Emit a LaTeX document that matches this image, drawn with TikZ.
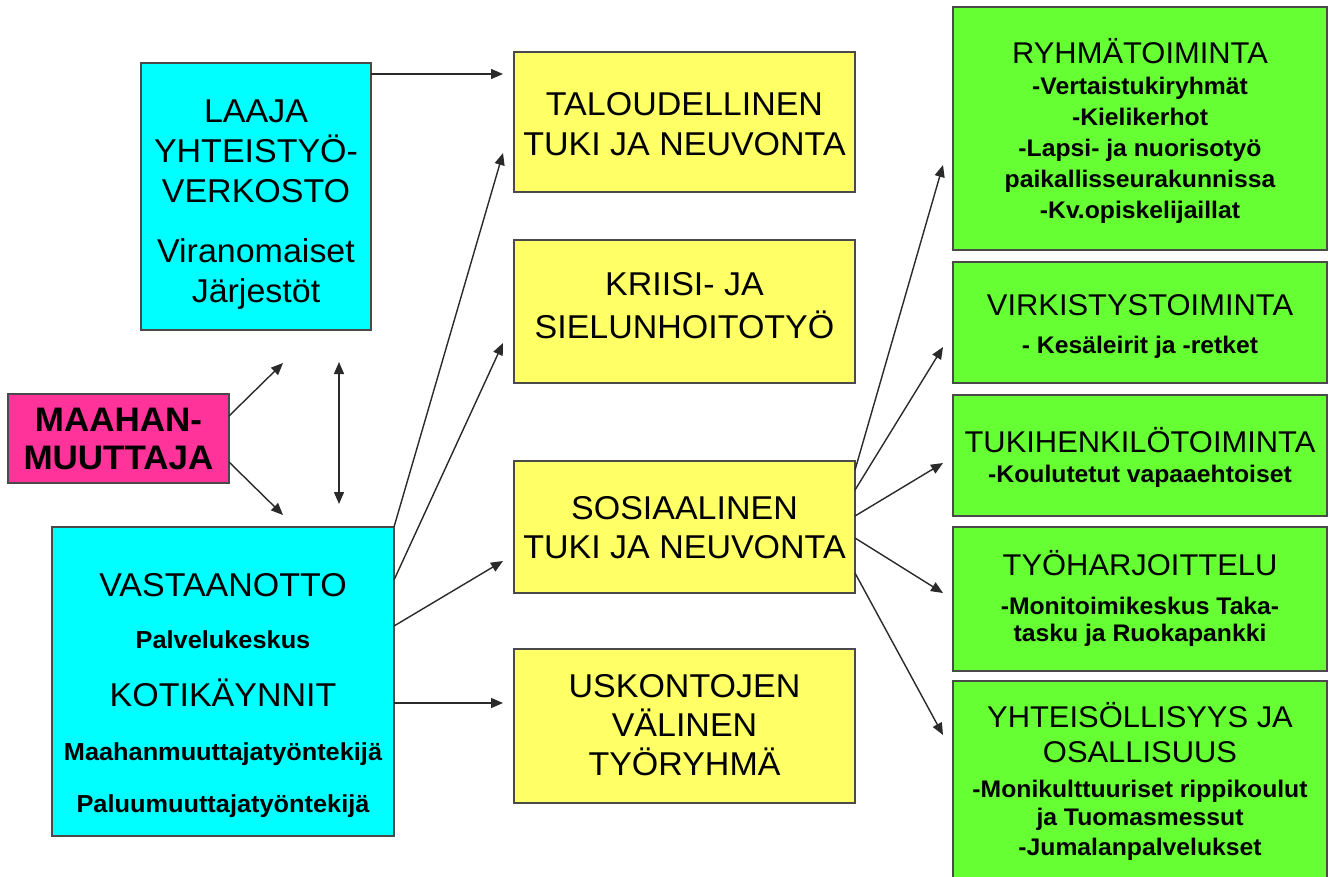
\documentclass[tikz,border=0pt]{standalone}
\usepackage{fontspec}
\setmainfont{Liberation Sans}[FakeStretch=1.03]
\usetikzlibrary{arrows.meta,calc}
\definecolor{cyanF}{HTML}{00FFFF}
\definecolor{pinkF}{HTML}{FF3399}
\definecolor{yellowF}{HTML}{FFFF66}
\definecolor{greenF}{HTML}{66FF33}
\definecolor{edgeC}{HTML}{4A4A4A}
\definecolor{arrC}{HTML}{2A2A2A}
\newcommand{\tstrut}{\rule{0pt}{30pt}}
\newcommand{\subf}{\bfseries\fontsize{24.6}{30}\selectfont}
\newcommand{\gsubf}[1]{\bfseries\fontsize{24}{#1}\selectfont}
\newcommand{\titf}{\mdseries\fontsize{30}{36}\selectfont}
\tikzset{
  panel/.style={draw=edgeC, line width=1.3pt, inner sep=0pt, outer sep=0pt, rectangle},
  cyanpanel/.style={panel, fill=cyanF},
  pinkpanel/.style={panel, fill=pinkF},
  yellowpanel/.style={panel, fill=yellowF, minimum width=341},
  greenpanel/.style={panel, fill=greenF, minimum width=374},
  txt/.style={anchor=north, inner sep=0pt, outer sep=0pt, align=center, text=black},
  arr/.style={draw=arrC, line width=1.4pt, -{Triangle[length=12pt,width=10pt]}},
  darr/.style={draw=arrC, line width=1.4pt, {Triangle[length=12pt,width=10pt]}-{Triangle[length=12pt,width=10pt]}}
}
\begin{document}
\begin{tikzpicture}[x=1pt,y=-1pt]
\useasboundingbox (0,0) rectangle (1338,876);
\fill[white] (0,0) rectangle (1338,876);

% boxes
\node[cyanpanel, minimum width=230, minimum height=267] (laaja) at (256,196.5) {};
\node[pinkpanel, minimum width=221, minimum height=89] (maahan) at (118.5,438.5) {};
\node[cyanpanel, minimum width=342, minimum height=309] (vast) at (223,681.5) {};

\node[yellowpanel, minimum height=140] (talous) at (684.5,122) {};
\node[yellowpanel, minimum height=143] (kriisi) at (684.5,311.5) {};
\node[yellowpanel, minimum height=132] (sos) at (684.5,527) {};
\node[yellowpanel, minimum height=154] (usk) at (684.5,726) {};

\node[greenpanel, minimum height=243] (ryhma) at (1140,128.5) {};
\node[greenpanel, minimum height=121] (virk) at (1140,322.5) {};
\node[greenpanel, minimum height=121] (tuki) at (1140,455.5) {};
\node[greenpanel, minimum height=144] (tyo) at (1140,599) {};
\node[greenpanel, minimum height=204] (yht) at (1140,783) {};

% texts
\node[txt, font=\fontsize{33}{40}\selectfont] (tlaaja) at (256,92)
  {\tstrut LAAJA\\YHTEISTYÖ-\\VERKOSTO\\[20pt]Viranomaiset\\Järjestöt};
\node[txt, font=\bfseries\fontsize{34}{38}\selectfont] (tmaahan) at (118.5,401)
  {\tstrut MAAHAN-\\MUUTTAJA};
\node[txt, font=\fontsize{33}{52}\selectfont] (tvast) at (223,566)
  {\tstrut VASTAANOTTO\\{\subf Palvelukeskus}\\[6pt]KOTIKÄYNNIT\\[2pt]{\subf Maahanmuuttajatyöntekijä}\\{\subf Paluumuuttajatyöntekijä}};

\node[txt, font=\fontsize{33}{40}\selectfont] (ttalous) at (684.5,85)
  {\tstrut TALOUDELLINEN\\TUKI JA NEUVONTA};
\node[txt, font=\fontsize{33}{43}\selectfont] (tkriisi) at (684.5,265)
  {\tstrut KRIISI- JA\\SIELUNHOITOTYÖ};
\node[txt, font=\fontsize{33}{39}\selectfont] (tsos) at (684.5,489)
  {\tstrut SOSIAALINEN\\TUKI JA NEUVONTA};
\node[txt, font=\fontsize{33}{39}\selectfont] (tusk) at (684.5,667)
  {\tstrut USKONTOJEN\\VÄLINEN\\TYÖRYHMÄ};

\node[txt, font=\gsubf{31}] (tryhma) at (1140,33)
  {\tstrut{\titf RYHMÄTOIMINTA}\\{-Vertaistukiryhmät}\\{-Kielikerhot}\\{-Lapsi- ja nuorisotyö}\\{paikallisseurakunnissa}\\{-Kv.opiskelijaillat}};
\node[txt, font=\gsubf{38}] (tvirk) at (1140,285)
  {\tstrut{\titf VIRKISTYSTOIMINTA}\\{- Kesäleirit ja -retket}};
\node[txt, font=\gsubf{30}] (ttuki) at (1140,422)
  {\tstrut{\titf TUKIHENKILÖTOIMINTA}\\{-Koulutetut vapaaehtoiset}};
\node[txt, font=\gsubf{27}] (ttyo) at (1140,545)
  {\tstrut{\titf TYÖHARJOITTELU}\\[12pt]{-Monitoimikeskus Taka-}\\{tasku ja Ruokapankki}};
\node[txt, font=\gsubf{29}] (tyht) at (1140,697)
  {\tstrut{\titf YHTEISÖLLISYYS JA}\\[6pt]{\titf OSALLISUUS}\\[6pt]{-Monikulttuuriset rippikoulut}\\[-1pt]{ja Tuomasmessut}\\[1pt]{-Jumalanpalvelukset}};

% connectors
\draw[arr] ($(laaja.north east)+(0,11)$) -- ($(talous.west)+(-11,-48)$);
\draw[arr] ($(maahan.east)+(0,-22.5)$) -- ($(laaja.south)+(27,33)$);
\draw[arr] ($(maahan.east)+(0,23.5)$) -- ($(vast.north)+(60,-12)$);
\draw[darr] ($(laaja.south)+(83,32)$) -- ($(vast.north)+(116,-23)$);

\draw[arr] (vast.north east) -- ($(talous.west)+(-11,31)$);
\draw[arr] ($(vast.north east)+(0,53)$) -- ($(kriisi.west)+(-11,31.5)$);
\draw[arr] ($(vast.north east)+(0,99)$) -- ($(sos.west)+(-11,34)$);
\draw[arr] ($(vast.east)+(0,21.5)$) -- ($(usk.west)+(-11,-23)$);

\draw[arr] ($(sos.north east)+(0,9)$) -- ($(ryhma.west)+(-10,36.5)$);
\draw[arr] ($(sos.north east)+(0,29)$) -- ($(virk.west)+(-10,24.5)$);
\draw[arr] ($(sos.north east)+(0,55)$) -- ($(tuki.west)+(-10,7.5)$);
\draw[arr] ($(sos.north east)+(0,77)$) -- ($(tyo.west)+(-10,-6)$);
\draw[arr] ($(sos.north east)+(0,112)$) -- ($(yht.west)+(-10,-48)$);
\end{tikzpicture}
\end{document}
